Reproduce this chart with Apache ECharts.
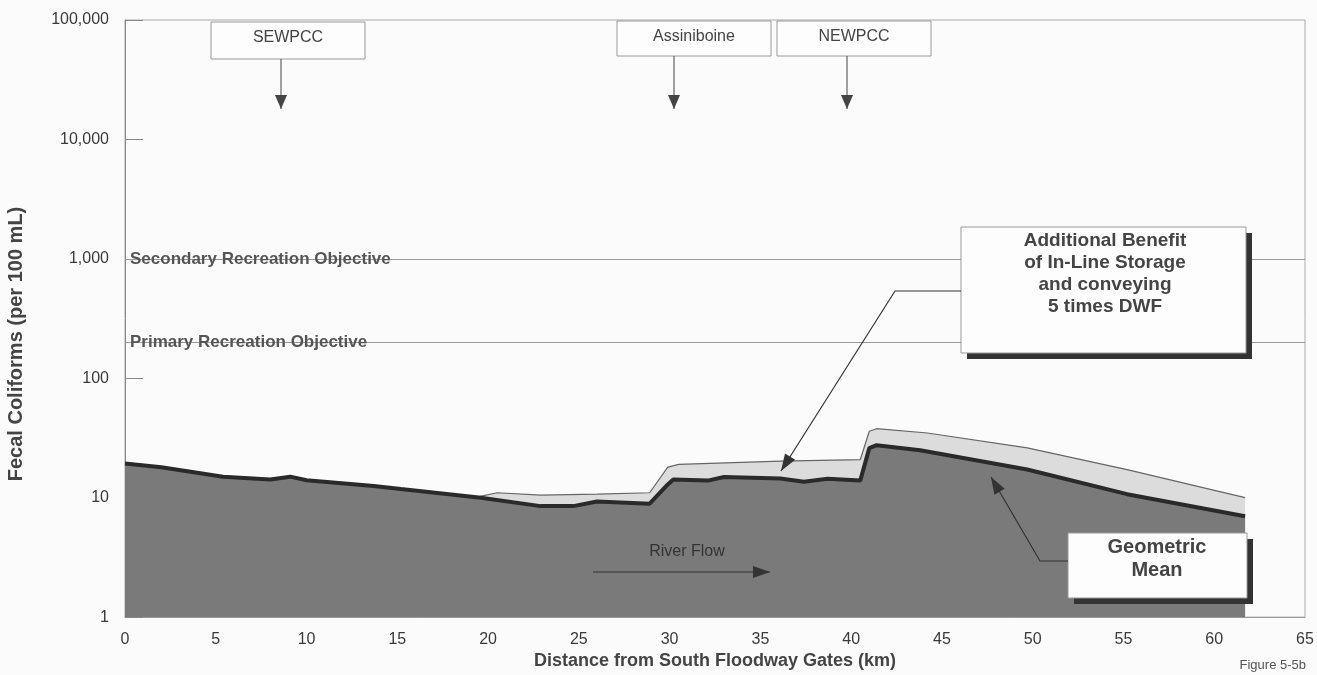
<!DOCTYPE html>
<html><head><meta charset="utf-8">
<script src="https://cdn.jsdelivr.net/npm/echarts@6/dist/echarts.min.js"></script>
<style>html,body{margin:0;padding:0;background:#fbfbfc}#c{width:1317px;height:675px}</style>
</head><body><div id="c"></div>
<script>
// ---- data ----
const geoMeanKm  = [0, 2, 5.4, 8.0, 9.1, 10.0, 13.7, 15.2, 19.6, 22.9, 24.7, 26.0, 28.9, 29.9, 30.2, 32.1, 33.0, 36.1, 37.4, 38.7, 40.5, 41.0, 41.4, 43.8, 49.7, 55.2, 61.7];
const geoMeanVal = [19.3, 18, 15.0, 14.2, 15.0, 14.0, 12.5, 11.8, 10.0, 8.5, 8.5, 9.3, 8.9, 12.9, 14.2, 13.9, 14.9, 14.5, 13.6, 14.4, 13.9, 26, 27.5, 25, 17.2, 10.7, 7.0];
const baseKm  = [19.5, 20.5, 22.9, 26.0, 28.9, 29.9, 30.5, 36.1, 40.5, 41.0, 41.4, 44.2, 49.7, 55.2, 61.7];
const baseVal = [10.2, 11.0, 10.5, 10.7, 11.0, 18.0, 19.0, 20.2, 20.8, 36, 37.8, 34.8, 26.1, 17.2, 10.0];
const yTickValues = [1, 10, 100, 1000, 10000, 100000];
const xTickValues = [0, 5, 10, 15, 20, 25, 30, 35, 40, 45, 50, 55, 60, 65];
const objectiveNames  = ['Secondary Recreation Objective', 'Primary Recreation Objective'];
const objectiveValues = [1000, 200];

const FONT = '"Liberation Sans", Arial, Helvetica, sans-serif';
const chart = echarts.init(document.getElementById('c'), null, {renderer: 'canvas'});

const geoData  = geoMeanKm.map((k, i) => [k, geoMeanVal[i]]);
const baseData = baseKm.map((k, i) => [k, baseVal[i]]);

chart.setOption({
  backgroundColor: '#fbfbfc',
  animation: false,
  grid: {left: 125, right: 12, top: 20, bottom: 55, show: true, borderColor: '#aaa', borderWidth: 1, backgroundColor: 'transparent'},
  xAxis: {
    type: 'value', min: 0, max: 65, interval: 5,
    name: 'Distance from South Floodway Gates (km)', nameLocation: 'middle', nameGap: 34,
    nameTextStyle: {fontFamily: FONT, fontWeight: 'bold', fontSize: 18, color: '#444'},
    axisLine: {lineStyle: {color: '#999'}},
    axisTick: {show: false},
    splitLine: {show: false},
    axisLabel: {fontFamily: FONT, fontSize: 16, color: '#3a3a3a', margin: 14,
      formatter: v => xTickValues.includes(v) ? String(v) : ''}
  },
  yAxis: {
    type: 'log', logBase: 10, min: 1, max: 100000,
    axisLine: {show: true, lineStyle: {color: '#888'}},
    axisTick: {show: true, inside: true, length: 18, lineStyle: {color: '#888'}},
    splitLine: {show: false},
    axisLabel: {fontFamily: FONT, fontSize: 16, color: '#3a3a3a', margin: 16,
      formatter: v => yTickValues.includes(v) ? v.toLocaleString('en-US') : ''}
  },
  series: [
    {
      type: 'line', name: 'Without storage', data: baseData, symbol: 'none',
      lineStyle: {color: '#666', width: 1.2},
      areaStyle: {color: '#dcdcdc', opacity: 1, origin: 'start'},
      z: 2
    },
    {
      type: 'line', name: 'Geometric Mean', data: geoData, symbol: 'none',
      lineStyle: {color: '#2a2a2a', width: 4},
      areaStyle: {color: '#7a7a7a', opacity: 1, origin: 'start'},
      z: 3,
      markLine: {
        silent: true, symbol: 'none', animation: false,
        lineStyle: {color: '#999', width: 1, type: 'solid'},
        label: {show: false},
        data: objectiveValues.map(v => ({yAxis: v}))
      }
    }
  ]
});

// ---- annotations ----
function arrowHead(x1, y1, x2, y2, len, hw, color) {
  const dx = x2 - x1, dy = y2 - y1, L = Math.hypot(dx, dy);
  const ux = dx / L, uy = dy / L, px = -uy, py = ux;
  const bx = x2 - ux * len, by = y2 - uy * len;
  return {type: 'polygon', z: 20, shape: {points: [[x2, y2], [bx + px * hw, by + py * hw], [bx - px * hw, by - py * hw]]}, style: {fill: color}};
}
function arrow(points, color, width, len, hw) {
  const n = points.length;
  return [
    {type: 'polyline', z: 20, shape: {points: points}, style: {stroke: color, lineWidth: width, fill: null}},
    arrowHead(points[n - 2][0], points[n - 2][1], points[n - 1][0], points[n - 1][1], len, hw, color)
  ];
}
function box(x, y, w, h, shadow) {
  const els = [];
  if (shadow) els.push({type: 'rect', z: 18, shape: {x: x + 6, y: y + 6, width: w, height: h}, style: {fill: '#333'}});
  els.push({type: 'rect', z: 19, shape: {x: x, y: y, width: w, height: h}, style: {fill: '#fdfdfd', stroke: '#999', lineWidth: 1}});
  return els;
}
function text(x, y, str, size, weight, color, align) {
  return {type: 'text', z: 21, x: x, y: y, style: {text: str, fontFamily: FONT, fontSize: size, fontWeight: weight || 'normal', fill: color || '#444', align: align || 'center', verticalAlign: 'middle', lineHeight: size + 3}};
}

const g = [];
// outfall boxes
g.push(...box(211, 22, 154, 37));
g.push(text(288, 38, 'SEWPCC', 16));
g.push(...arrow([[281, 59], [281, 109]], '#444', 1, 14, 6));
g.push(...box(617, 21, 154, 35));
g.push(text(694, 37, 'Assiniboine', 16));
g.push(...arrow([[674, 56], [674, 109]], '#444', 1, 14, 6));
g.push(...box(777, 21, 154, 35));
g.push(text(854, 37, 'NEWPCC', 16));
g.push(...arrow([[847, 56], [847, 109]], '#444', 1, 14, 6));

// additional benefit box
g.push(...arrow([[961, 291], [895, 291], [781, 471]], '#333', 1.2, 17, 6));
g.push(...box(961, 227, 285, 126, true));
g.push(text(1105, 274, 'Additional Benefit\nof In-Line Storage\nand conveying\n5 times DWF', 19, 'bold', '#444'));

// geometric mean box
g.push(...arrow([[1068, 561], [1040, 561], [991, 477]], '#333', 1.2, 17, 6));
g.push(...box(1068, 533, 179, 65, true));
g.push(text(1157, 559, 'Geometric\nMean', 20, 'bold', '#444'));

// river flow
g.push(text(687, 552, 'River Flow', 16, 'normal', '#333'));
g.push(...arrow([[593, 572], [770, 572]], '#333', 1, 17, 6));

// y axis title
g.push({type: 'text', z: 21, x: 16, y: 344, rotation: Math.PI / 2,
  style: {text: 'Fecal Coliforms (per 100 mL)', fontFamily: FONT, fontSize: 20, fontWeight: 'bold', fill: '#444', align: 'center', verticalAlign: 'middle'}});

// figure label
g.push(text(1306, 665, 'Figure 5-5b', 13, 'normal', '#555', 'right'));

// objective labels
objectiveValues.forEach((v, i) => {
  const p = chart.convertToPixel({gridIndex: 0}, [0, v]);
  g.push({type: 'text', z: 21, x: p[0] + 5, y: p[1], style: {text: objectiveNames[i], fontFamily: FONT, fontSize: 17, fontWeight: 'bold', fill: '#555', align: 'left', verticalAlign: 'middle'}});
});

chart.setOption({graphic: g});
</script></body></html>
